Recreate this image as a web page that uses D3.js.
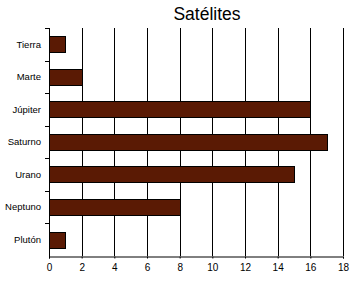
<!DOCTYPE html>
<html><head><meta charset="utf-8">
<script src="https://cdn.jsdelivr.net/npm/d3@7"></script>
<style>body{margin:0;background:#fff}svg{display:block}</style>
</head><body>
<script>
const categories = ["Tierra","Marte","Júpiter","Saturno","Urano","Neptuno","Plutón"];
const satellites = [1,2,16,17,15,8,1];
const xTicks = [0,2,4,6,8,10,12,14,16,18];
const title = "Satélites";

const W = 361, H = 284;
const m = {left:49, right:343, top:28, bottom:256};
const svg = d3.select("body").append("svg").attr("width",W).attr("height",H);
svg.append("rect").attr("width",W).attr("height",H).attr("fill","#fff");

const x = d3.scaleLinear().domain([0,18]).range([m.left,m.right]);
const y = d3.scaleBand().domain(categories).range([m.top,m.bottom]).paddingInner(0.5).paddingOuter(0.25);

// gridlines
svg.append("g").selectAll("line").data(xTicks.filter(t=>t>0)).join("line")
  .attr("x1",d=>Math.round(x(d))+0.5).attr("x2",d=>Math.round(x(d))+0.5)
  .attr("y1",m.top).attr("y2",m.bottom)
  .attr("stroke","#000").attr("stroke-width",1);

// bars
svg.append("g").selectAll("rect").data(categories).join("rect")
  .attr("x",x(0)+0.5)
  .attr("y",(d)=>Math.round(y(d))+0.5)
  .attr("width",(d,i)=>Math.round(x(satellites[i])-x(0)))
  .attr("height",Math.round(y.bandwidth()))
  .attr("fill","#5a1a04").attr("stroke","#000").attr("stroke-width",1);

// x axis
const xa = svg.append("g").attr("transform",`translate(0,${m.bottom+0.5})`)
  .call(d3.axisBottom(x).tickValues(xTicks).tickSize(2).tickPadding(5).tickFormat(d3.format("d")));
xa.select(".domain").attr("stroke","#000");
xa.selectAll("text").attr("font-family","Arial, Liberation Sans, sans-serif").attr("font-size","10px").attr("fill","#000");

// y axis line and ticks at band boundaries
const step = y.step();
const bounds = categories.map(c=>y(c)-step*0.25).concat([m.bottom]);
svg.append("line").attr("x1",m.left+0.5).attr("x2",m.left+0.5).attr("y1",m.top).attr("y2",m.bottom+2).attr("stroke","#000");
svg.append("g").selectAll("line").data(bounds.slice(0,-1)).join("line")
  .attr("x1",m.left-4).attr("x2",m.left+0.5)
  .attr("y1",d=>Math.round(d)+0.5).attr("y2",d=>Math.round(d)+0.5)
  .attr("stroke","#000");

// y labels
svg.append("g").selectAll("text").data(categories).join("text")
  .attr("x",m.left-8).attr("y",d=>y(d)+y.bandwidth()/2)
  .attr("dy","0.35em").attr("text-anchor","end")
  .attr("font-family","Arial, Liberation Sans, sans-serif").attr("font-size","9.5px")
  .text(d=>d);

// title
svg.append("text").attr("x",207).attr("y",19.5).attr("text-anchor","middle")
  .attr("font-family","Arial, Liberation Sans, sans-serif").attr("font-size","17.5px")
  .text(title);
</script>
</body></html>
